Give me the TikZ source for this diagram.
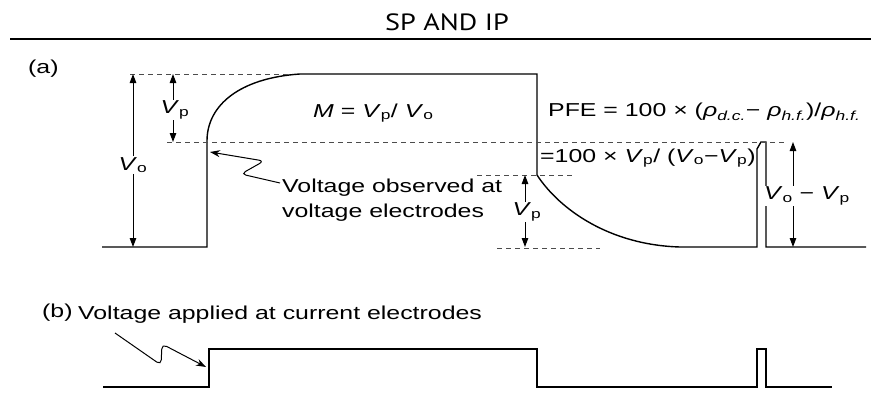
\documentclass[tikz,border=0pt]{standalone}
\usepackage{fontspec}
\setmainfont{Liberation Sans}[FakeStretch=1.33]
\newfontfamily\titlefont{PT Sans}[FakeStretch=1.2]
\usetikzlibrary{arrows.meta}
\newcommand{\isub}[2]{\textit{#1}\textsubscript{#2}}

\begin{document}
\begin{tikzpicture}[x=1pt, y=-1pt,
  lbl/.style={inner sep=0pt, anchor=west, font=\fontsize{18.7}{25}\selectfont},
  tag/.style={fill=white, inner sep=1pt, font=\fontsize{18.7}{22}\selectfont},
  sig/.style={line width=1.4pt, line join=miter},
  dsh/.style={dash pattern=on 5pt off 4pt, line width=0.9pt, black!70},
  arr/.style={-{Triangle[length=9pt,width=6.5pt]}, line width=1pt},
  ptr/.style={-{Stealth[length=10pt,width=7pt]}, line width=1pt, rounded corners=5pt},
]
  \useasboundingbox (0,0) rectangle (871,399);

  % heading
  \node[font=\titlefont\fontsize{23.5}{26}\selectfont] (title) at (447,22) {SP AND IP};
  \draw[line width=2pt] (10,39) -- (871,39);

  % (a) observed voltage
  \node[lbl] (a) at (28,69) {(a)};
  \draw[sig] (102,247) -- (207,247) -- (207,141)
    .. controls (207,105) and (240,78) .. (300,74) -- (537,74) -- (537,175)
    .. controls (560,210) and (610,245) .. (680,247) -- (757,247)
    -- (757,149) -- (761,142) -- (766,142) -- (766,247) -- (866,247);
  \draw[dsh] (130,74) -- (292,74);
  \draw[dsh] (167,142) -- (787,142);
  \draw[dsh] (477,175) -- (573,175);
  \draw[dsh] (497,248) -- (600,248);

  \coordinate (votop) at (133,74);
  \coordinate (vobot) at (133,247);
  \node[tag] (vo) at (133,165) {\isub{V}{o}};
  \draw[arr] (vo.north -| votop) -- (votop);
  \draw[arr] (vo.south -| vobot) -- (vobot);

  \coordinate (vptop) at (173,74);
  \coordinate (vpbot) at (173,142);
  \node[tag] (vp) at (175,110) {\isub{V}{p}};
  \draw[arr] (vp.north -| vptop) -- (vptop);
  \draw[arr] (vp.south -| vpbot) -- (vpbot);

  \coordinate (dptop) at (525,175);
  \coordinate (dpbot) at (525,247);
  \node[tag] (dp) at (527,212) {\isub{V}{p}};
  \draw[arr] (dp.north -| dptop) -- (dptop);
  \draw[arr] (dp.south -| dpbot) -- (dpbot);

  \coordinate (optop) at (793,142);
  \coordinate (opbot) at (793,247);
  \node[tag] (op) at (807,196) {\isub{V}{o} − \isub{V}{p}};
  \draw[arr] (op.north -| optop) -- (optop);
  \draw[arr] (op.south -| opbot) -- (opbot);

  \node[lbl] (mratio) at (313,113) {\textit{M} = \isub{V}{p}/ \isub{V}{o}};
  \node[lbl] (pfe) at (548,112)
    {PFE = 100 × (\isub{ρ}{\itshape d.c.}− \isub{ρ}{\itshape h.f.})/\isub{ρ}{\itshape h.f.}};
  \node[lbl] (pfeb) at (540,158) {=100 × \isub{V}{p}/ (\isub{V}{o}−\isub{V}{p})};
  \node[lbl, align=left] (obs) at (282,200) {Voltage observed at\\voltage electrodes};
  \coordinate (tipa) at (210,152);
  \draw[ptr] ([xshift=-2pt,yshift=17pt]obs.west) -- (241,174) -- (264,161) -- (tipa);

  % (b) applied voltage
  \node[lbl] (b) at (42,313) {(b)};
  \node[lbl] (appl) at (78,315) {Voltage applied at current electrodes};
  \draw[sig] (103,387) -- (209,387) -- (209,349) -- (537,349) -- (537,387)
    -- (757,387) -- (757,349) -- (766,349) -- (766,387) -- (832,387);
  \coordinate (ptrb) at (115,333);
  \coordinate (tipb) at (206,367);
  \draw[ptr] (ptrb) -- (161,365) -- (162,344) -- (tipb);
\end{tikzpicture}
\end{document}
